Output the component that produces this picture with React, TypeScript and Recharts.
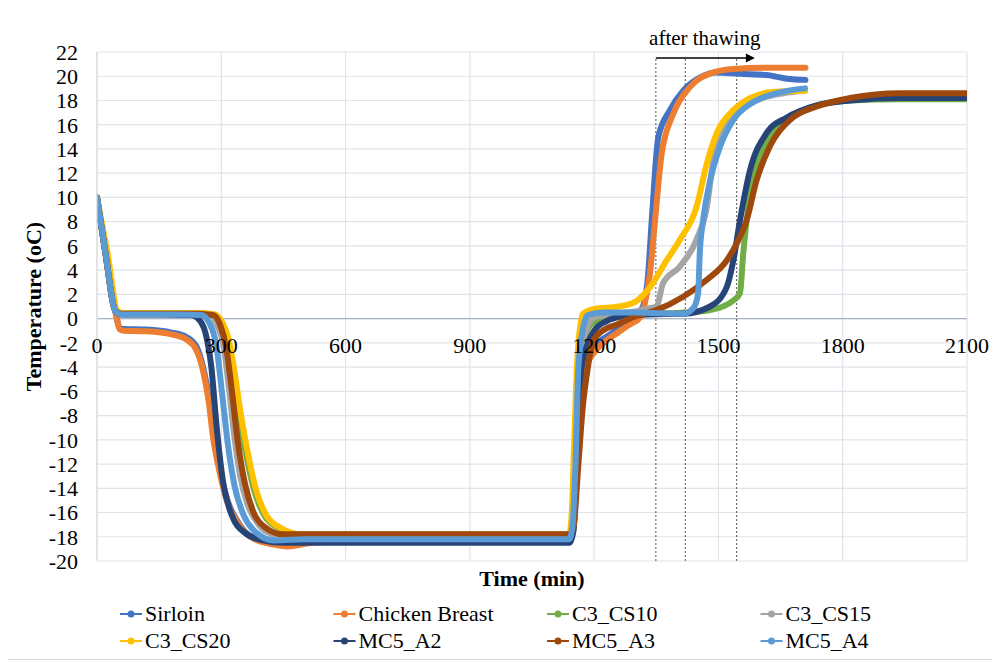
import {
  CartesianGrid,
  Line,
  LineChart,
  ReferenceDot,
  ReferenceLine,
  XAxis,
  YAxis,
} from "recharts";

type Pt = [number, number];

// time (min), temperature (oC)
const sirloin: Pt[] = [
  [0, 10], [20, 5.5], [45, 0.5], [55, -0.8], [65, -0.85], [120, -0.9], [180, -1.15],
  [215, -1.5], [240, -2.3], [258, -4.3], [271, -6.7], [283, -10], [295, -12.2],
  [315, -15], [337, -16.6], [355, -17.5], [380, -18.1], [420, -18.5], [460, -18.6],
  [520, -18.4], [1140, -18.3], [1150, -17.3], [1160, -10], [1168, -5.5], [1180, -3.2],
  [1200, -2.2], [1230, -1.5], [1260, -0.8], [1290, -0.1], [1310, 0.5], [1322, 1.5],
  [1330, 3.5], [1339, 8.1], [1355, 15], [1383, 17.2], [1415, 18.8], [1456, 19.9],
  [1496, 20.3], [1552, 20.2], [1616, 20.1], [1665, 19.8], [1710, 19.7],
];

const chickenBreast: Pt[] = [
  [0, 10], [20, 5.5], [45, 0.5], [55, -0.9], [65, -1.0], [120, -1.05], [180, -1.3],
  [215, -1.7], [240, -2.6], [256, -4.3], [269, -6.7], [281, -10], [293, -12.2],
  [313, -15], [335, -16.6], [353, -17.5], [380, -18.2], [420, -18.6], [460, -18.8],
  [520, -18.5], [600, -18.4], [1140, -18.4], [1150, -17.5], [1160, -10], [1168, -6],
  [1180, -4], [1200, -2.8], [1230, -1.8], [1255, -1.2], [1285, -0.5], [1311, 0.1],
  [1322, 1.2], [1334, 3.5], [1347, 8.1], [1363, 13.6], [1391, 16.9], [1431, 19.1],
  [1487, 20.3], [1536, 20.6], [1616, 20.7], [1710, 20.7],
];

const c3Cs10: Pt[] = [
  [0, 10], [20, 5.5], [45, 0.6], [60, 0.45], [240, 0.45], [280, 0.35], [298, -0.3],
  [312, -1.6], [326, -4.2], [341, -7.6], [358, -10.9], [378, -14], [405, -16.3],
  [440, -17.3], [490, -17.8], [1140, -17.8], [1150, -17], [1160, -9], [1170, -3],
  [1185, -0.8], [1200, -0.3], [1250, 0.2], [1330, 0.4], [1420, 0.5], [1480, 0.7],
  [1536, 1.5], [1552, 2.1], [1560, 5.4], [1572, 9.2], [1592, 12.5], [1632, 15.3],
  [1681, 16.7], [1737, 17.6], [1818, 18.0], [1938, 18.1], [2100, 18.1],
];

const c3Cs15: Pt[] = [
  [0, 10], [20, 5.5], [45, 0.6], [60, 0.4], [220, 0.4], [272, 0.3], [288, -0.4],
  [305, -2.2], [318, -5.6], [331, -9.6], [345, -12.9], [362, -15.2], [382, -16.6],
  [410, -17.6], [450, -18], [1140, -18], [1150, -17], [1160, -9], [1168, -4],
  [1180, -1], [1200, 0.1], [1250, 0.4], [1300, 0.6], [1340, 0.9], [1351, 1.0],
  [1366, 2.9], [1407, 4.3], [1447, 6.5], [1472, 9.2], [1488, 13.1], [1512, 15.5],
  [1544, 16.9], [1592, 18.0], [1657, 18.6], [1709, 18.8],
];

const c3Cs20: Pt[] = [
  [0, 10], [25, 5.5], [50, 0.6], [65, 0.45], [250, 0.45], [285, 0.35], [302, -0.3],
  [317, -1.6], [331, -4.2], [346, -7.6], [363, -10.9], [383, -14], [410, -16.3],
  [445, -17.3], [495, -17.8], [1140, -17.8], [1146, -16], [1152, -10], [1160, -3],
  [1173, 0.4], [1200, 0.8], [1260, 1.0], [1300, 1.4], [1335, 2.6], [1375, 4.8],
  [1407, 6.5], [1447, 9.2], [1472, 12.8], [1496, 15.3], [1536, 17.2], [1576, 18.2],
  [1632, 18.7], [1709, 18.8],
];

const mc5A2: Pt[] = [
  [0, 10], [20, 5.5], [45, 0.6], [60, 0.35], [150, 0.35], [228, 0.3], [247, -0.1],
  [262, -1.2], [276, -4], [289, -9], [304, -13.4], [325, -16.2], [358, -17.7],
  [400, -18.3], [450, -18.5], [1140, -18.5], [1150, -17.5], [1160, -10], [1170, -4],
  [1185, -2], [1200, -1], [1230, -0.2], [1270, 0.2], [1330, 0.35], [1415, 0.4],
  [1480, 1.0], [1520, 2.6], [1536, 4.8], [1552, 8.1], [1576, 12.2], [1616, 15.3],
  [1665, 16.6], [1737, 17.6], [1818, 18.0], [1938, 18.2], [2100, 18.2],
];

const mc5A3: Pt[] = [
  [0, 10], [20, 5.5], [45, 0.6], [60, 0.4], [230, 0.4], [280, 0.3], [297, -0.5],
  [312, -2.4], [325, -5.8], [340, -10.2], [357, -13.6], [378, -16], [405, -17.2],
  [450, -17.8], [1140, -17.8], [1150, -17.2], [1162, -12], [1172, -7.5], [1185, -4],
  [1198, -1.8], [1225, -0.9], [1254, -0.5], [1300, 0.2], [1350, 0.7], [1415, 1.8],
  [1472, 3.2], [1520, 4.8], [1544, 6.2], [1568, 8.1], [1592, 11.4], [1624, 14.2],
  [1673, 16.4], [1737, 17.5], [1818, 18.2], [1938, 18.6], [2100, 18.6],
];

const mc5A4: Pt[] = [
  [0, 10], [20, 5.5], [45, 0.6], [60, 0.35], [200, 0.35], [252, 0.3], [270, -0.3],
  [288, -2.2], [302, -6.2], [316, -10.4], [332, -13.8], [355, -16.3], [386, -17.7],
  [427, -18.3], [500, -18.2], [1140, -18.2], [1148, -17], [1155, -12], [1162, -4],
  [1175, -0.5], [1185, 0.3], [1220, 0.5], [1300, 0.5], [1415, 0.4], [1440, 0.9],
  [1451, 2.1], [1455, 5.4], [1463, 8.1], [1480, 11.4], [1504, 14.2], [1536, 16.4],
  [1576, 17.7], [1641, 18.6], [1709, 19.0],
];

const seriesNames = [
  "Sirloin", "Chicken Breast", "C3_CS10", "C3_CS15",
  "C3_CS20", "MC5_A2", "MC5_A3", "MC5_A4",
];
const seriesColors = [
  "#4472C4", "#ED7D31", "#70AD47", "#A5A5A5",
  "#FFC000", "#264478", "#9E480E", "#5B9BD5",
];
const seriesPoints = [sirloin, chickenBreast, c3Cs10, c3Cs15, c3Cs20, mc5A2, mc5A3, mc5A4];

const xTicks = [0, 300, 600, 900, 1200, 1500, 1800, 2100];
const yTicks = [-20, -18, -16, -14, -12, -10, -8, -6, -4, -2, 0, 2, 4, 6, 8, 10, 12, 14, 16, 18, 20, 22];
const thawLines = [1349, 1420, 1544];
const arrowY = 21.5;
const arrowEnd = 1588;

const FONT = '"Liberation Serif", "Times New Roman", serif';
const CHART_W = 986;
const CHART_H = 652;
const MARGIN = { top: 45, right: 26, left: 0, bottom: 0 };
const Y_AXIS_W = 90;
const X_AXIS_H = 98;
const PLOT_H = CHART_H - MARGIN.top - X_AXIS_H;
const Y_MIN = -20;
const Y_MAX = 22;
// x tick labels sit just under the 0 line, not at the bottom of the plot
const ZERO_LIFT = (PLOT_H * (0 - Y_MIN)) / (Y_MAX - Y_MIN);

const XTick = (props: any) => {
  const { x, y, payload } = props;
  return (
    <text x={x} y={y - ZERO_LIFT + 34} textAnchor="middle" fill="#000" fontSize={22} fontFamily={FONT}>
      {payload.value}
    </text>
  );
};

const XLabel = (props: any) => {
  const { x, y, width } = props.viewBox;
  return (
    <text x={x + width / 2} y={y + 25} textAnchor="middle" fontSize={22} fontWeight="bold" fontFamily={FONT} fill="#000">
      Time (min)
    </text>
  );
};

const YLabel = (props: any) => {
  const { x, y, height } = props.viewBox;
  const cx = x + 26;
  const cy = y + height / 2;
  return (
    <text
      x={cx}
      y={cy}
      transform={`rotate(-90 ${cx} ${cy})`}
      textAnchor="middle"
      dominantBaseline="central"
      fontSize={22}
      fontWeight="bold"
      fontFamily={FONT}
      fill="#000"
    >
      Temperature (oC)
    </text>
  );
};

const ArrowHead = (props: any) => {
  const { cx, cy } = props;
  return <path d={`M${cx - 9},${cy - 4.5} L${cx},${cy} L${cx - 9},${cy + 4.5} Z`} fill="#000" />;
};

const ThawText = (props: any) => {
  const { cx, cy } = props;
  return (
    <text x={cx} y={cy} textAnchor="middle" fontSize={21} fontFamily={FONT} fill="#000">
      after thawing
    </text>
  );
};

const Legend = () => (
  <svg width={CHART_W} height={60} style={{ position: "absolute", left: 0, top: 590 }}>
    {seriesNames.map((name, i) => {
      const col = i % 4;
      const row = Math.floor(i / 4);
      const x = 113 + col * 213.5;
      const y = 17 + row * 27;
      return (
        <g key={name}>
          <line x1={x} x2={x + 22} y1={y} y2={y} stroke={seriesColors[i]} strokeWidth={2} />
          <circle cx={x + 11} cy={y} r={3.5} fill={seriesColors[i]} />
          <text x={x + 25} y={y + 7} fontSize={22} fontFamily={FONT} fill="#000">
            {name}
          </text>
        </g>
      );
    })}
  </svg>
);

export default function App() {
  return (
    <div
      style={{
        position: "relative",
        width: CHART_W,
        height: CHART_H,
        margin: "-2px 0 0 -2px",
        border: "1px solid #d9d9d9",
        background: "#fff",
        fontFamily: FONT,
      }}
    >
      <LineChart width={CHART_W} height={CHART_H} margin={MARGIN}>
        <CartesianGrid stroke="#dfe3ea" strokeWidth={1.2} />
        <XAxis
          type="number"
          dataKey="t"
          domain={[0, 2100]}
          ticks={xTicks}
          interval={0}
          axisLine={false}
          tickLine={false}
          tickSize={0}
          tickMargin={0}
          height={X_AXIS_H}
          tick={<XTick />}
          label={<XLabel />}
          allowDataOverflow
        />
        <YAxis
          type="number"
          domain={[Y_MIN, Y_MAX]}
          ticks={yTicks}
          interval={0}
          width={Y_AXIS_W}
          axisLine={{ stroke: "#d9d9d9" }}
          tickLine={false}
          tickSize={0}
          tickMargin={19}
          tick={{ fill: "#000", fontSize: 22, fontFamily: FONT }}
          label={<YLabel />}
          allowDataOverflow
        />
        <ReferenceLine y={0} stroke="#aab3c5" strokeWidth={1.2} />
        {thawLines.map((t) => (
          <ReferenceLine
            key={t}
            segment={[
              { x: t, y: Y_MIN },
              { x: t, y: arrowY },
            ]}
            stroke="#555"
            strokeDasharray="2 2"
            strokeWidth={1}
          />
        ))}
        {seriesPoints.map((pts, i) => (
          <Line
            key={seriesNames[i]}
            name={seriesNames[i]}
            data={pts.map(([t, v]) => ({ t, v }))}
            dataKey="v"
            type="monotone"
            stroke={seriesColors[i]}
            strokeWidth={6}
            strokeLinecap="round"
            strokeLinejoin="round"
            dot={false}
            activeDot={false}
            isAnimationActive={false}
          />
        ))}
        <ReferenceLine
          segment={[
            { x: thawLines[0], y: arrowY },
            { x: arrowEnd - 15, y: arrowY },
          ]}
          stroke="#000"
          strokeWidth={1.5}
        />
        <ReferenceDot x={arrowEnd} y={arrowY} r={0} shape={<ArrowHead />} ifOverflow="visible" />
        <ReferenceDot x={1467} y={22.6} r={0} shape={<ThawText />} ifOverflow="visible" />
      </LineChart>
      <Legend />
    </div>
  );
}
